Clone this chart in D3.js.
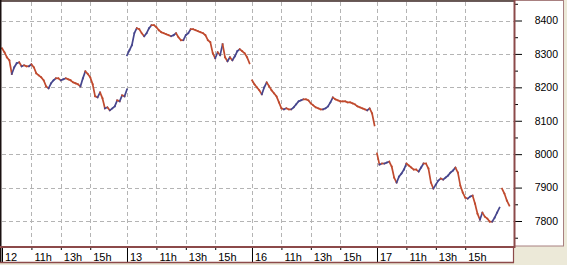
<!DOCTYPE html>
<html>
<head>
<meta charset="utf-8">
<script src="https://cdnjs.cloudflare.com/ajax/libs/d3/7.8.5/d3.min.js"></script>
<style>
    body { margin: 0; background: #ece9d8; }
    svg { display: block; font-family: "Liberation Sans", Arial, sans-serif; }
</style>
</head>
<body>
<div id="chart"></div>
<script>
// tick labels
let days = ["12", "13", "16", "17"];
let hourLabels = ["11h", "13h", "15h"];
let hourMinutes = [120, 240, 360];
let priceTicks = [7800, 7900, 8000, 8100, 8200, 8300, 8400];
let minorTicks = [7750, 7850, 7950, 8050, 8150, 8250, 8350, 8450];

// 10 minute prices per session (9h00 - 17h30)
let day12 = [8317, 8305, 8290, 8281, 8240, 8260, 8272, 8275, 8263, 8266, 8263, 8263, 8269,
    8260, 8242, 8236, 8230, 8221, 8203, 8197, 8212, 8221, 8227, 8227, 8221, 8224, 8227, 8224,
    8221, 8215, 8212, 8209, 8203, 8227, 8248, 8240, 8230, 8209, 8173, 8170, 8185, 8167, 8137,
    8140, 8131, 8137, 8143, 8161, 8158, 8176, 8173, 8194];
let day13 = [8296, 8311, 8326, 8362, 8377, 8374, 8362, 8353, 8362, 8377, 8386, 8386, 8380,
    8371, 8365, 8362, 8359, 8356, 8353, 8356, 8362, 8350, 8341, 8341, 8356, 8362, 8374, 8374,
    8371, 8368, 8365, 8362, 8356, 8341, 8335, 8302, 8287, 8305, 8296, 8329, 8290, 8278, 8290,
    8281, 8293, 8308, 8314, 8308, 8302, 8290, 8272];
let day16 = [8221, 8209, 8200, 8191, 8179, 8200, 8215, 8203, 8191, 8182, 8173, 8155, 8137,
    8134, 8137, 8134, 8134, 8140, 8149, 8158, 8161, 8164, 8164, 8161, 8152, 8146, 8140, 8137,
    8134, 8134, 8137, 8143, 8155, 8170, 8164, 8161, 8158, 8158, 8158, 8155, 8155, 8152, 8149,
    8143, 8140, 8137, 8134, 8131, 8137, 8122, 8086];
let day17 = [8002, 7969, 7972, 7972, 7975, 7978, 7963, 7930, 7915, 7933, 7942, 7954, 7972,
    7966, 7960, 7954, 7954, 7948, 7960, 7972, 7972, 7957, 7915, 7897, 7909, 7921, 7927, 7924,
    7930, 7936, 7945, 7951, 7960, 7945, 7906, 7885, 7870, 7867, 7873, 7876, 7852, 7822, 7804,
    7825, 7813, 7807, 7798, 7798, 7810, 7825, 7840];
let day18 = [7897, 7882, 7861, 7846];

let sessions = [day12, day13, day16, day17, day18];
let sessionLength = 510;
let step = 10;

let width = 567;
let height = 265;

let svg = d3.select("#chart").append("svg")
    .attr("width", width)
    .attr("height", height);

let x = d3.scaleLinear().domain([0, 2089]).range([2, 514]);
let y = d3.scaleLinear().domain([7800, 8400]).range([221, 20.5]);

// panels
svg.append("rect").attr("width", width).attr("height", height).attr("fill", "#ece9d8");
svg.append("rect")
    .attr("x", 514.5).attr("y", 0.5).attr("width", 49).attr("height", 245.5)
    .attr("fill", "#fff").attr("stroke", "#a88080");
svg.append("rect")
    .attr("x", 1).attr("y", 1).attr("width", 513).attr("height", 262)
    .attr("fill", "#fff");

let xTicks = [];
days.forEach((d, i) => {
    xTicks.push({m: i * sessionLength, label: d, major: true});
    hourMinutes.forEach((h, j) => xTicks.push({m: i * sessionLength + h, label: hourLabels[j], major: false}));
});

// grid
let grid = svg.append("g")
    .attr("stroke", "#b4b4b4")
    .attr("stroke-dasharray", "4,3");

grid.selectAll(".v")
    .data(xTicks.filter(t => t.m > 0))
    .enter().append("line")
    .attr("x1", d => Math.round(x(d.m)) + 0.5)
    .attr("x2", d => Math.round(x(d.m)) + 0.5)
    .attr("y1", 2)
    .attr("y2", 246);

grid.selectAll(".h")
    .data(priceTicks)
    .enter().append("line")
    .attr("x1", 2)
    .attr("x2", 514)
    .attr("y1", d => Math.round(y(d)) + 0.5)
    .attr("y2", d => Math.round(y(d)) + 0.5);

// price moves
let segments = [];
sessions.forEach((values, s) => {
    for (let i = 1; i < values.length; i++) {
        segments.push({
            m0: s * sessionLength + (i - 1) * step, v0: values[i - 1],
            m1: s * sessionLength + i * step, v1: values[i]
        });
    }
});

svg.append("clipPath").attr("id", "clip")
    .append("rect").attr("x", 1).attr("y", 1).attr("width", 513).attr("height", 245);

svg.append("g")
    .attr("clip-path", "url(#clip)")
    .selectAll("line")
    .data(segments)
    .enter().append("line")
    .attr("x1", d => x(d.m0))
    .attr("y1", d => y(d.v0))
    .attr("x2", d => x(d.m1))
    .attr("y2", d => y(d.v1))
    .attr("stroke", d => d.v1 > d.v0 ? "#46468e" : "#c04a2e")
    .attr("stroke-width", 1.7)
    .attr("stroke-linecap", "square");

// y axis
let yAxis = svg.append("g")
    .attr("transform", "translate(515,0)")
    .call(d3.axisRight(y).tickValues(priceTicks).tickSize(7).tickFormat(d3.format("d")));
yAxis.select(".domain").remove();
yAxis.selectAll("line").attr("stroke", "#000");
yAxis.selectAll("text")
    .attr("x", 43)
    .attr("text-anchor", "end")
    .attr("font-size", "10.5px")
    .attr("fill", "#000");

let yMinor = svg.append("g")
    .attr("transform", "translate(515,0)")
    .call(d3.axisRight(y).tickValues(minorTicks).tickSize(3).tickFormat(""));
yMinor.select(".domain").remove();
yMinor.selectAll("line").attr("stroke", "#000");

// x axis
let xAxis = svg.append("g")
    .attr("transform", "translate(0,247)")
    .call(d3.axisBottom(x)
        .tickValues(xTicks.map(t => t.m))
        .tickFormat((d, i) => xTicks[i].label)
        .tickSize(0));
xAxis.select(".domain").remove();
xAxis.selectAll(".tick line")
    .attr("stroke", "#000")
    .attr("y2", (d, i) => xTicks[i].major ? 15 : 3);
xAxis.selectAll(".tick text")
    .attr("x", 2.5)
    .attr("y", 14.3)
    .attr("dy", null)
    .attr("text-anchor", "start")
    .attr("font-size", "11px")
    .attr("fill", "#000");

// borders
let border = svg.append("g").attr("fill", "none");
border.append("line").attr("x1", 0).attr("x2", 515).attr("y1", 1).attr("y2", 1)
    .attr("stroke", "#3a2424").attr("stroke-width", 1.5);
border.append("line").attr("x1", 0.75).attr("x2", 0.75).attr("y1", 0).attr("y2", 263)
    .attr("stroke", "#1a1010").attr("stroke-width", 1.5);
border.append("line").attr("x1", 514.5).attr("x2", 514.5).attr("y1", 0).attr("y2", 248)
    .attr("stroke", "#8c4a4a").attr("stroke-width", 2);
border.append("line").attr("x1", 0).attr("x2", 515).attr("y1", 247).attr("y2", 247)
    .attr("stroke", "#8c4a4a").attr("stroke-width", 2);
border.append("line").attr("x1", 0).attr("x2", 514).attr("y1", 262.5).attr("y2", 262.5)
    .attr("stroke", "#8c4a4a").attr("stroke-width", 1.5);
border.append("line").attr("x1", 513.5).attr("x2", 513.5).attr("y1", 247).attr("y2", 263)
    .attr("stroke", "#8c4a4a").attr("stroke-width", 1.2);
</script>
</body>
</html>
